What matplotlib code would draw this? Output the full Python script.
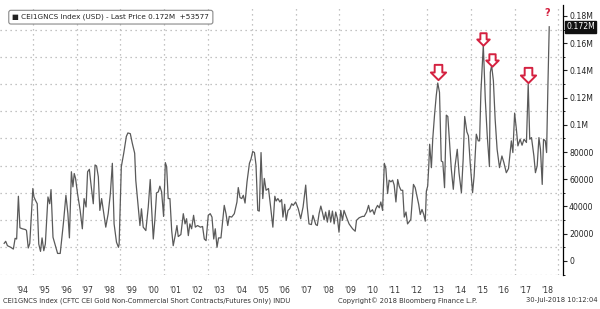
import numpy as np
import matplotlib
matplotlib.use("Agg")
import matplotlib.pyplot as plt
import matplotlib.transforms as mtransforms
from matplotlib.path import Path

# weekly-ish readings of CEI1GNCS (gold non-commercial shorts), decimal years
years = [
    1993.69, 1993.76, 1993.84, 1993.99, 1994.11, 1994.19, 1994.26, 1994.34, 1994.41, 1994.52,
    1994.67, 1994.71, 1994.79, 1994.86, 1995.00, 1995.05, 1995.12, 1995.20, 1995.27, 1995.35,
    1995.42, 1995.50, 1995.57, 1995.69, 1995.77, 1995.83, 1995.92, 1996.03, 1996.13, 1996.25,
    1996.33, 1996.40, 1996.51, 1996.60, 1996.67, 1996.76, 1996.83, 1996.89, 1996.95, 1997.04,
    1997.16, 1997.26, 1997.34, 1997.43, 1997.50, 1997.58, 1997.65, 1997.76, 1997.84, 1997.91,
    1997.99, 1998.06, 1998.14, 1998.24, 1998.33, 1998.44, 1998.54, 1998.63, 1998.71, 1998.82,
    1998.91, 1998.94, 1999.04, 1999.15, 1999.27, 1999.34, 1999.45, 1999.54, 1999.65,
    1999.70, 1999.81, 1999.89, 1999.96, 2000.04, 2000.16, 2000.27, 2000.36, 2000.42, 2000.50,
    2000.57, 2000.65, 2000.73, 2000.80, 2000.88, 2000.97, 2001.05, 2001.11, 2001.18, 2001.26,
    2001.34, 2001.41, 2001.50, 2001.58, 2001.64, 2001.76, 2001.87, 2001.95, 2002.02, 2002.10,
    2002.17, 2002.25, 2002.34, 2002.42, 2002.52, 2002.65, 2002.75, 2002.83, 2002.91, 2003.01,
    2003.10, 2003.18, 2003.26, 2003.33, 2003.41, 2003.48, 2003.59, 2003.67, 2003.74, 2003.82,
    2003.90, 2003.97, 2004.08, 2004.20, 2004.32, 2004.38, 2004.46, 2004.54, 2004.61, 2004.69,
    2004.78, 2004.89, 2004.96, 2005.04, 2005.12, 2005.19, 2005.27, 2005.34, 2005.42, 2005.50,
    2005.57, 2005.65, 2005.76,
    2005.85, 2005.96, 2006.05, 2006.11, 2006.19, 2006.28, 2006.36, 2006.42, 2006.50, 2006.57,
    2006.65, 2006.73, 2006.82, 2006.89, 2007.00, 2007.12, 2007.23, 2007.34, 2007.46, 2007.53,
    2007.61, 2007.72, 2007.79, 2007.92, 2007.99, 2008.07, 2008.15, 2008.22, 2008.30, 2008.37,
    2008.45, 2008.53, 2008.60, 2008.68, 2008.76, 2008.83, 2008.91, 2008.98, 2009.06, 2009.14,
    2009.21, 2009.32, 2009.44, 2009.60, 2009.72, 2009.78, 2009.90, 2010.05, 2010.13, 2010.24,
    2010.33, 2010.40, 2010.51, 2010.59, 2010.66, 2010.74, 2010.82, 2010.89, 2010.97, 2011.05,
    2011.12, 2011.20, 2011.27, 2011.35, 2011.43, 2011.50, 2011.58, 2011.66, 2011.73, 2011.81,
    2011.89, 2011.96, 2012.04, 2012.11,
    2012.26, 2012.38, 2012.46, 2012.54, 2012.62, 2012.69, 2012.77, 2012.85, 2012.92, 2012.97,
    2013.03, 2013.08, 2013.12, 2013.20, 2013.26, 2013.34, 2013.42, 2013.49, 2013.57, 2013.65,
    2013.72, 2013.80, 2013.88, 2013.95, 2014.03, 2014.11, 2014.20, 2014.28, 2014.38, 2014.46,
    2014.57, 2014.65, 2014.72, 2014.82, 2014.89, 2014.97, 2015.08, 2015.15, 2015.25, 2015.34,
    2015.40, 2015.46, 2015.57, 2015.66, 2015.75, 2015.85, 2015.89, 2015.95, 2016.03, 2016.11,
    2016.20, 2016.31, 2016.42, 2016.51, 2016.62, 2016.72, 2016.85, 2016.92, 2017.00, 2017.08,
    2017.15, 2017.25, 2017.34, 2017.43, 2017.54, 2017.62, 2017.69, 2017.77, 2017.88, 2017.95,
    2018.03, 2018.11, 2018.18, 2018.26, 2018.32, 2018.40, 2018.46, 2018.52, 2018.58,
]
values = [
    12900, 14400, 11200, 10000, 8700, 16600, 16100, 47500, 24300, 23600,
    23000, 22300, 9500, 12900, 53200, 47000, 44500, 42000, 12400, 7000,
    16900, 7500, 12400, 47000, 42000, 52400, 17400, 11200, 5500, 5500,
    17400, 28500, 48200, 34700, 16900, 65500, 54400, 64200, 60600, 49500,
    37100, 23600, 45800, 39600, 65500, 67300, 56900, 42000, 70500, 69700,
    61800, 37100, 45800, 34700, 24800, 34700, 49500, 71700, 27200, 13700,
    10000, 12400, 69200, 79100, 91500, 94000, 93500, 86500, 79100,
    59300, 39600, 26000, 38300, 24800, 22300, 39600, 59800, 39600, 16100,
    29800, 50000, 50700, 54900, 50700, 32700, 72200, 69200, 45800, 45800,
    22300, 11200, 18600, 26000, 17900, 19400, 34700, 27200, 31000, 18600,
    27200, 23600, 33500, 24800, 26000, 24800, 25300, 16100, 14900, 33500,
    34700, 32200, 16100, 23600, 10000, 16900, 16900, 29800, 40800, 34700,
    26000, 32700, 32200, 34700, 43300, 53900, 46500, 45800, 48200, 42500,
    58100, 71700, 74700, 80400, 79600, 70500, 37100, 36600, 79600, 45800,
    60600, 51900, 53200,
    40800, 24800, 47500, 44000, 45800, 43300, 45100, 32200, 41600, 29800,
    37100, 38300, 42000, 40800, 43300, 38300, 31000, 39600, 55700, 39600,
    27200, 26700, 33500, 26700, 26000, 34700, 40300, 35900, 30200, 35900,
    28500, 37100, 28500, 36600, 27200, 35900, 31000, 21100, 37100, 29800,
    37100, 32200, 27200, 23600, 21800, 29800, 31700, 32700, 32700, 35900,
    40800, 35900, 37600, 34200, 38300, 40800, 39000, 43300, 37100, 71700,
    68000, 49500, 59300, 58100, 59300, 55700, 43300, 59800, 54900, 51900,
    51900, 32200, 35900, 27200,
    30400, 56200, 53800, 47600, 41500, 34100, 37800, 34100, 29200, 51300,
    55000, 69800, 85700, 68500, 89400, 106600, 121300, 130700, 123800, 73400,
    72700, 53800, 107100, 106100, 87000, 67300, 52600, 69800, 82000, 64800,
    50100, 74700, 106100, 94800, 91900, 72200, 50100, 62400, 93100, 88200,
    88200, 123800, 158700, 118900, 91900, 69300, 138600, 143500, 132400, 104200,
    82000, 68500, 77100, 72200, 64800, 67800, 88200, 79600, 108600, 96800,
    84500, 89400, 85000, 89400, 87000, 130000, 89400, 90600, 77100, 64800,
    69800, 90600, 82000, 56200, 89400, 88200, 79600, 128700, 172000,
]

# peaks flagged with red arrows on the original
arrow_years = [2013.49, 2015.57, 2015.95, 2017.62]
arrow_sizes = [11, 9, 9, 11]
arrow_lift = [11, 6, 6, 9]   # px above the peak

last_change = "+53577"
year_labels = ["'%02d" % (y % 100) for y in range(1994, 2019)]

red = '#d42140'
line_col = '#5a5a5a'
grid_col = '#b0b0b0'
fs = 5.6
ffs = 4.9

fig = plt.figure(figsize=(6, 3.09), dpi=100)
ax = fig.add_axes([0.0, 0.1098, 0.938, 0.874])

ax.plot(years, values, color=line_col, lw=0.9)

ax.set_xlim(1993.5, 2019.2)
ax.set_ylim(-10400, 188000)

# gridlines at odd years / odd 10k, labels at mid-year
ax.set_xticks(np.arange(1995, 2020, 2))
ax.set_xticks(np.arange(1994, 2019) + 0.5, minor=True)
ax.set_xticklabels([])
ax.set_xticklabels(year_labels, minor=True, fontsize=fs, color='#333333')
ax.tick_params(axis='x', which='both', length=0, pad=8)
ax.grid(axis='x', which='major', ls=(0, (1, 3)), color=grid_col, lw=0.9)

yt = np.arange(0, 180001, 20000)
ax.yaxis.tick_right()
ax.set_yticks(yt)
ax.set_yticklabels([("%d" % v) if v < 100000 else ("%gM" % (v / 1e6)) for v in yt])
ax.set_yticks(np.arange(-10000, 188000, 20000), minor=True)
ax.tick_params(axis='y', which='major', length=3, width=0.8, pad=1.5, labelsize=fs, colors='#222222')
ax.tick_params(axis='y', which='minor', length=1.5, width=0.6)
ax.grid(axis='y', which='minor', ls=(0, (1, 3)), color=grid_col, lw=0.9)
ax.grid(axis='y', which='major', visible=False)

for s in ['top', 'left', 'bottom']:
    ax.spines[s].set_visible(False)
ax.spines['right'].set_linewidth(0.9)

# last price tag on the axis
tr = mtransforms.blended_transform_factory(ax.transAxes, ax.transData)
ax.text(1.006, values[-1], "%.3fM" % (values[-1] / 1e6), transform=tr, ha='left', va='center',
        fontsize=fs, color='white', bbox=dict(boxstyle='square,pad=0.2', fc='#111111', ec='#111111'))

# legend box
ax.text(0.022, 0.955, "\u25A0 CEI1GNCS Index (USD) - Last Price %.3fM  %s" % (values[-1] / 1e6, last_change),
        transform=ax.transAxes, ha='left', va='center', fontsize=5.2, color='#222222',
        bbox=dict(boxstyle='round,pad=0.5,rounding_size=0.3', fc='white', ec='#888888', lw=0.8))

# hollow down arrows over peaks
arrow = Path([(-0.25, 0.5), (0.25, 0.5), (0.25, 0.0), (0.5, 0.0), (0.0, -0.5),
              (-0.5, 0.0), (-0.25, 0.0), (-0.25, 0.5)],
             [Path.MOVETO] + [Path.LINETO] * 6 + [Path.CLOSEPOLY])
yr = np.array(years)
for ay, sz, lift in zip(arrow_years, arrow_sizes, arrow_lift):
    i = int(np.argmin(np.abs(yr - ay)))
    off = mtransforms.offset_copy(ax.transData, fig=fig, x=0, y=lift, units='dots')
    ax.plot(years[i], values[i], marker=arrow, markersize=sz, mfc='white', mec=red, mew=1.4,
            transform=off, clip_on=False)

off = mtransforms.offset_copy(ax.transData, fig=fig, x=-2, y=14, units='dots')
ax.text(years[-1], values[-1], "?", transform=off, ha='center', va='center', color=red,
        fontsize=7, fontweight='bold')

# footer
fig.text(0.005, 0.028, "CEI1GNCS Index (CFTC CEI Gold Non-Commercial Short Contracts/Futures Only) INDU",
         ha='left', va='center', fontsize=ffs, color='#333333')
fig.text(0.68, 0.028, "Copyright\u00a9 2018 Bloomberg Finance L.P.", ha='center', va='center',
         fontsize=ffs, color='#333333')
fig.text(0.996, 0.028, "30-Jul-2018 10:12:04", ha='right', va='center', fontsize=ffs, color='#333333')

fig.savefig("out.png", dpi=100, facecolor='white')
